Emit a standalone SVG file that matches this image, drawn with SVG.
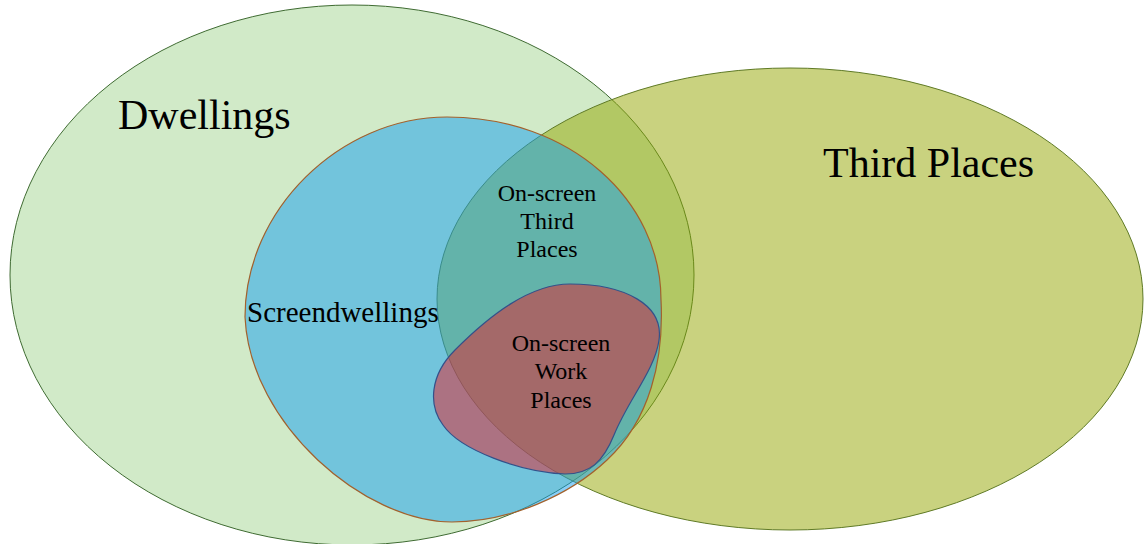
<svg xmlns="http://www.w3.org/2000/svg" width="1145" height="544" viewBox="0 0 1145 544">
<style>
.lbl{font-family:"Liberation Serif","Times New Roman","DejaVu Serif",serif;fill:#000}
.big{font-size:42px}
.mid{font-size:29px}
.sm{font-size:24px;text-anchor:middle}
</style>
<rect width="1145" height="544" fill="#ffffff"/>
<g id="dwellings">
<ellipse cx="352" cy="275" rx="342" ry="270" fill="#d1eac8" stroke="#3f6b32" stroke-width="1"/>
</g>
<g id="third-places">
<ellipse cx="790" cy="299" rx="353" ry="231" fill="#93a600" fill-opacity="0.5" stroke="#5f7a25" stroke-width="1"/>
</g>
<g id="screendwellings">
<path d="M447,117 C570,117 661,200 661,300 C664,360 650,420 607,460 C570,495 510,522 452,522 C365,522 250,425 245,317 C245,210 340,117 447,117 Z" fill="#139ef0" fill-opacity="0.5" stroke="#a3612c" stroke-width="1.2"/>
</g>
<g id="work-places">
<path d="M570,284 C625,284 664,305 659,340 C655,370 628,400 614,435 C603,462 590,474 565,474 C520,472 460,450 443,425 C428,405 430,375 455,350 C490,315 530,284 570,284 Z" fill="#e62027" fill-opacity="0.5" stroke="#34518a" stroke-width="1.2"/>
</g>
<g id="connectors"></g>
<g id="labels">
<text class="lbl big" x="118" y="129">Dwellings</text>
<text class="lbl big" x="823" y="177">Third Places</text>
<text class="lbl mid" x="247" y="322">Screendwellings</text>
<text class="lbl sm" x="547" y="201">On-screen</text>
<text class="lbl sm" x="547" y="229">Third</text>
<text class="lbl sm" x="547" y="257">Places</text>
<text class="lbl sm" x="561" y="351">On-screen</text>
<text class="lbl sm" x="561" y="379">Work</text>
<text class="lbl sm" x="561" y="408">Places</text>
</g>
</svg>
